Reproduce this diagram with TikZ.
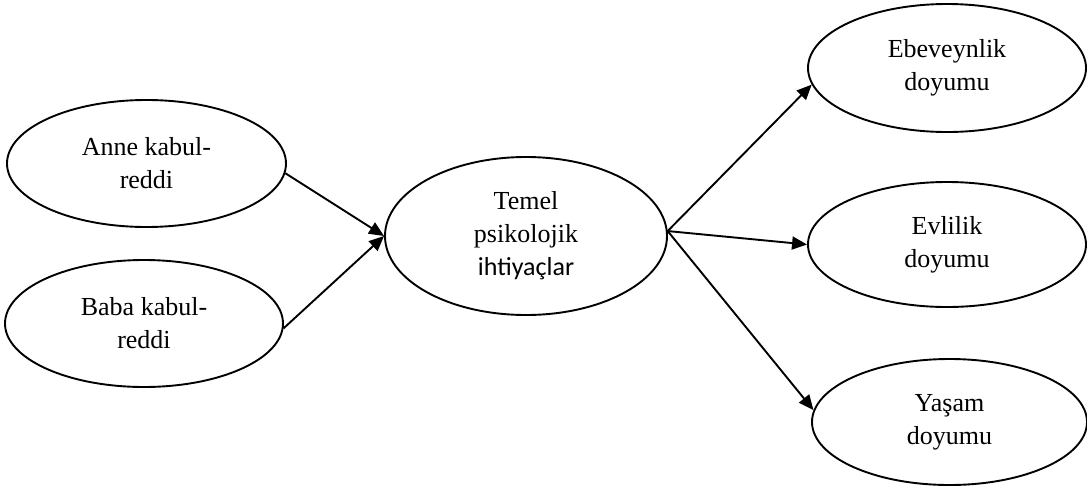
\documentclass[tikz,border=0pt]{standalone}
\usepackage{fontspec}
\setmainfont{Liberation Serif}
\newfontfamily\carlitofont{Carlito}
\usetikzlibrary{shapes.geometric,arrows.meta}
\begin{document}
\begin{tikzpicture}[x=1pt,y=-1pt,
  oval/.style={ellipse, draw, line width=1.9pt, inner sep=0pt, align=center,
    font=\fontsize{26}{33}\selectfont},
  conn/.style={line width=1.9pt, -{Triangle[length=15pt,width=13pt]}}]
\useasboundingbox (0,0) rectangle (1087,488);
\node[oval, minimum width=279pt, minimum height=127pt] (anne) at (146.5,163.5) {Anne kabul-\\reddi};
\node[oval, minimum width=278pt, minimum height=127pt] (baba) at (144,323.5) {Baba kabul-\\reddi};
\node[oval, minimum width=282pt, minimum height=158pt] (temel) at (526,236) {Temel\\psikolojik\\{\carlitofont ihtiyaçlar}};
\node[oval, minimum width=278pt, minimum height=128pt] (ebe) at (947,68) {Ebeveynlik\\doyumu};
\node[oval, minimum width=278pt, minimum height=125pt] (evl) at (947,244.5) {Evlilik\\doyumu};
\node[oval, minimum width=275pt, minimum height=126pt] (yas) at (949.5,422) {Yaşam\\doyumu};
\coordinate (tin) at (temel.west);
\coordinate (tout) at (temel.2);
\draw[conn] (anne.-4) -- (tin);
\draw[conn] (baba.-2) -- (tin);
\draw[conn] (tout) -- (ebe.187);
\draw[conn] (tout) -- (evl.west);
\draw[conn] (tout) -- (yas.175);
\end{tikzpicture}
\end{document}
